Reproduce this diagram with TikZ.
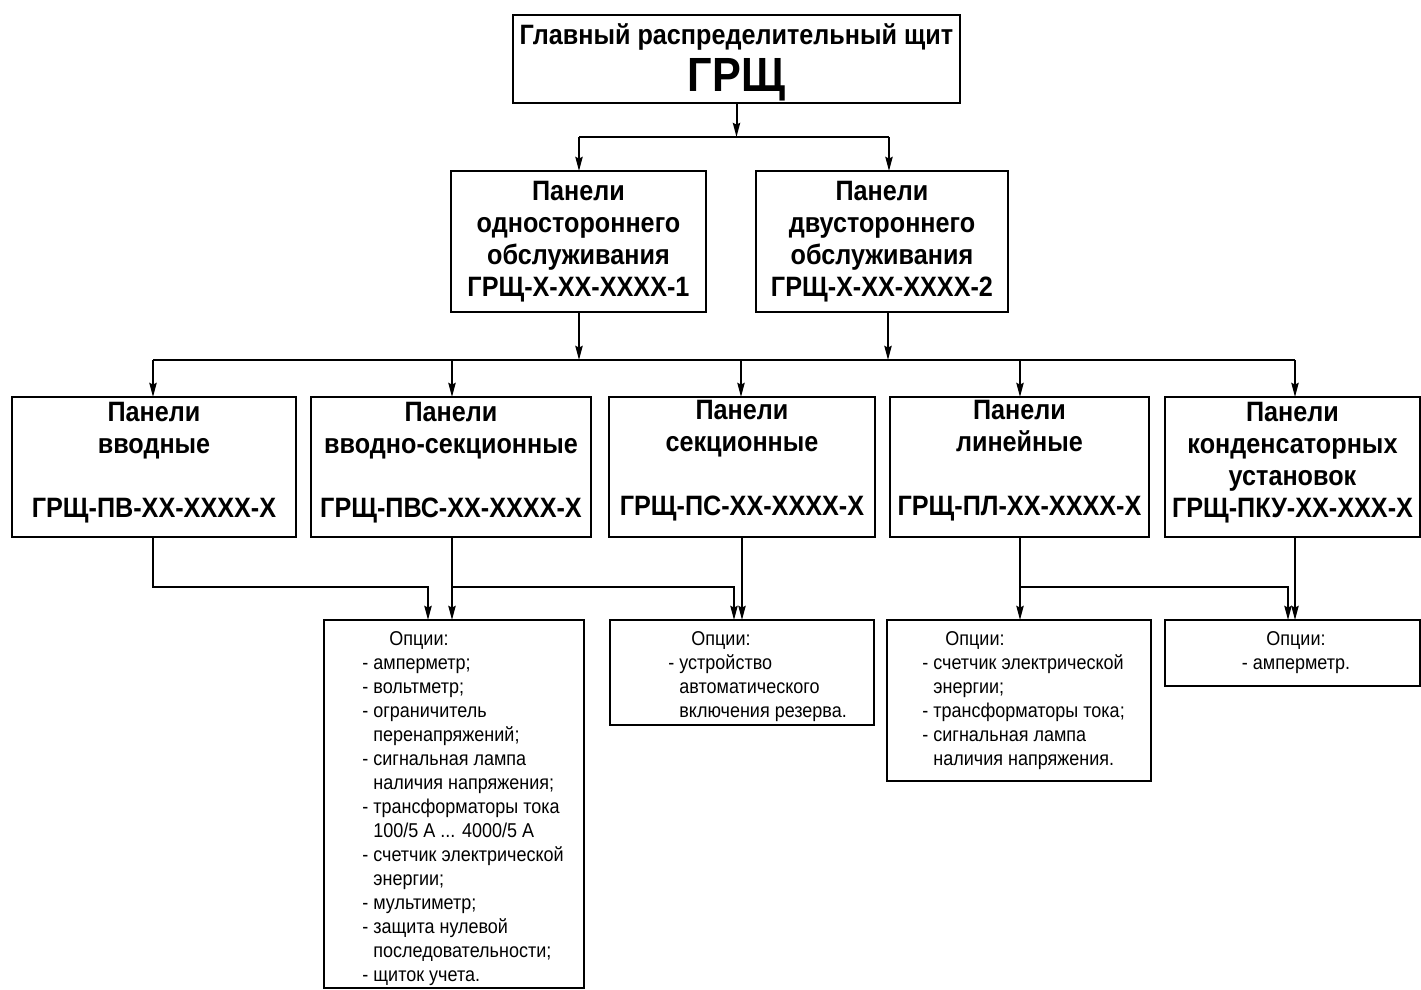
\documentclass[tikz,border=0pt]{standalone}
\usepackage{fontspec}
\setmainfont{Liberation Sans}[FakeStretch=0.9]
\usetikzlibrary{arrows.meta}
\begin{document}
\begin{tikzpicture}[x=0.5pt,y=-0.5pt,
  box/.style={draw, line width=1.1pt, inner sep=0pt, outer sep=0pt},
  hdr/.style={font=\bfseries\fontsize{14}{16}\selectfont, align=center, inner sep=0pt},
  opt/.style={font=\fontsize{10}{12}\selectfont, align=left, inner sep=0pt, anchor=north west},
  wire/.style={line width=1pt},
  arr/.style={wire, -{Stealth[length=7pt,width=3.6pt,inset=0.8pt]}}]
\useasboundingbox[fill=white] (0,0) rectangle (1421,990);

% boxes
\node[box, minimum width=223.5pt, minimum height=44pt] (top) at (736.5,59) {};
\node[box, minimum width=127.5pt, minimum height=70.5pt] (p1) at (578.5,241.5) {};
\node[box, minimum width=126pt, minimum height=70.5pt] (p2) at (882,241.5) {};
\node[box, minimum width=142pt, minimum height=70pt] (b1) at (154,467) {};
\node[box, minimum width=140pt, minimum height=70pt] (b2) at (451,467) {};
\node[box, minimum width=133pt, minimum height=70pt] (b3) at (742,467) {};
\node[box, minimum width=129.5pt, minimum height=70pt] (b4) at (1019.5,467) {};
\node[box, minimum width=127.5pt, minimum height=70pt] (b5) at (1292.5,467) {};
\node[box, minimum width=130pt, minimum height=184pt] (o1) at (454,804) {};
\node[box, minimum width=132pt, minimum height=52.5pt] (o2) at (742,672.5) {};
\node[box, minimum width=132pt, minimum height=80.5pt] (o3) at (1019,700.5) {};
\node[box, minimum width=127.5pt, minimum height=33pt] (o4) at (1292.5,653) {};

% texts
\node[hdr, anchor=base] (t0a) at (736.5,45) {Главный распределительный щит};
\node[hdr, anchor=base, font=\bfseries\fontsize{24}{28}\selectfont] (t0b) at (736.5,92) {ГРЩ};
\node[hdr] (tp1) at (p1) {Панели\\одностороннего\\обслуживания\\ГРЩ-Х-ХХ-ХХХХ-1};
\node[hdr] (tp2) at (882,241.5) {Панели\\двустороннего\\обслуживания\\ГРЩ-Х-ХХ-ХХХХ-2};
\node[hdr] (tb1) at (154,463) {Панели\\вводные\\[16pt]ГРЩ-ПВ-ХХ-ХХХХ-Х};
\node[hdr] (tb2) at (451,463) {Панели\\вводно-секционные\\[16pt]ГРЩ-ПВС-ХХ-ХХХХ-Х};
\node[hdr] (tb3) at (742,461) {Панели\\секционные\\[16pt]ГРЩ-ПС-ХХ-ХХХХ-Х};
\node[hdr] (tb4) at (1019.5,461) {Панели\\линейные\\[16pt]ГРЩ-ПЛ-ХХ-ХХХХ-Х};
\node[hdr] (tb5) at (1292.5,463) {Панели\\конденсаторных\\установок\\ГРЩ-ПКУ-ХХ-ХХХ-Х};

\node[opt] (to1) at (362,631) {\hspace*{13.5pt}Опции:\\- амперметр;\\- вольтметр;\\- ограничитель\\\hspace*{5.5pt}перенапряжений;\\- сигнальная лампа\\\hspace*{5.5pt}наличия напряжения;\\- трансформаторы тока\\\hspace*{5.5pt}100/5 А ... 4000/5 А\\- счетчик электрической\\\hspace*{5.5pt}энергии;\\- мультиметр;\\- защита нулевой\\\hspace*{5.5pt}последовательности;\\- щиток учета.};
\node[opt] (to2) at (668,631) {\hspace*{11.5pt}Опции:\\- устройство\\\hspace*{5.5pt}автоматического\\\hspace*{5.5pt}включения резерва.};
\node[opt] (to3) at (922,631) {\hspace*{11.5pt}Опции:\\- счетчик электрической\\\hspace*{5.5pt}энергии;\\- трансформаторы тока;\\- сигнальная лампа\\\hspace*{5.5pt}наличия напряжения.};
\node[opt, anchor=north, align=center] (to4) at (1296,631) {Опции:\\- амперметр.};

% top connectors
\coordinate (j0) at (736.5,137);
\coordinate (j0l) at (579,137);
\coordinate (j0r) at (889,137);
\draw[arr] (top.south) -- (j0);
\draw[wire] (j0l) -- (j0r);
\draw[arr] (j0l) -- (j0l |- p1.north);
\draw[arr] (j0r) -- (j0r |- p2.north);

% second level bus
\coordinate (k1) at (579,360);
\coordinate (k2) at (888,360);
\coordinate (d1) at (153,360);
\coordinate (d2) at (452,360);
\coordinate (d3) at (741,360);
\coordinate (d4) at (1020,360);
\coordinate (d5) at (1295,360);
\draw[arr] (k1 |- p1.south) -- (k1);
\draw[arr] (k2 |- p2.south) -- (k2);
\draw[wire] (d1) -- (d5);
\draw[arr] (d1) -- (d1 |- b1.north);
\draw[arr] (d2) -- (d2 |- b2.north);
\draw[arr] (d3) -- (d3 |- b3.north);
\draw[arr] (d4) -- (d4 |- b4.north);
\draw[arr] (d5) -- (d5 |- b5.north);

% options connectors
\coordinate (e1) at (153,587);
\coordinate (e1b) at (428,587);
\coordinate (e2) at (452,587);
\coordinate (e2b) at (734,587);
\coordinate (e3) at (742,587);
\coordinate (e4) at (1020,587);
\coordinate (e4b) at (1288,587);
\coordinate (e5) at (1295,587);
\draw[arr] (e1 |- b1.south) -- (e1) -- (e1b) -- (e1b |- o1.north);
\draw[arr] (e2 |- b2.south) -- (e2 |- o1.north);
\draw[arr] (e2) -- (e2b) -- (e2b |- o2.north);
\draw[arr] (e3 |- b3.south) -- (e3 |- o2.north);
\draw[arr] (e4 |- b4.south) -- (e4 |- o3.north);
\draw[arr] (e4) -- (e4b) -- (e4b |- o4.north);
\draw[arr] (e5 |- b5.south) -- (e5 |- o4.north);
\end{tikzpicture}
\end{document}
